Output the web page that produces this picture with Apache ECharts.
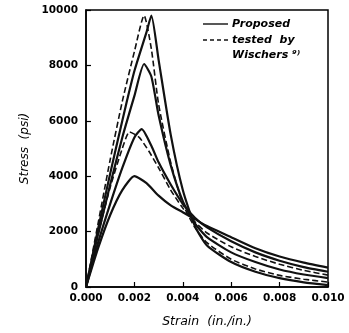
<!DOCTYPE html>
<html><head><meta charset="utf-8">
<script src="https://cdn.jsdelivr.net/npm/echarts@6/dist/echarts.min.js"></script>
<style>html,body{margin:0;padding:0;background:#fff}#c{width:349px;height:333px}</style>
</head><body><div id="c"></div>
<script>
// strain (in./in.), stress (psi)
const propA_strain = [0,0.0005,0.001,0.0015,0.0017,0.002,0.0025,0.0027,0.003,0.0035,0.004,0.0045,0.005,0.006,0.007,0.008,0.009,0.010];
const propA_stress = [0,2100,4100,6000,6750,7800,9200,9800,8200,5500,3500,2200,1500,900,550,320,170,70];
const testA_strain = [0,0.0005,0.001,0.0015,0.002,0.0024,0.0027,0.003,0.0035,0.004,0.0045,0.005,0.006,0.007,0.008,0.009,0.010];
const testA_stress = [0,2300,4600,6700,8500,9800,8600,6600,4500,3000,2150,1600,1000,650,420,280,180];
const propB_strain = [0,0.0005,0.001,0.0015,0.002,0.0024,0.0027,0.003,0.0035,0.004,0.0045,0.005,0.006,0.007,0.008,0.009,0.010];
const propB_stress = [0,1900,3700,5400,6900,8050,7600,6200,4400,3100,2300,1800,1250,900,630,450,320];
const propC_strain = [0,0.0005,0.001,0.0015,0.002,0.0023,0.0027,0.003,0.0035,0.004,0.0045,0.005,0.006,0.007,0.008,0.009,0.010];
const propC_stress = [0,1600,3000,4300,5400,5700,5100,4500,3700,3000,2500,2150,1650,1250,950,720,550];
const testC_strain = [0,0.0005,0.001,0.0015,0.0018,0.0022,0.0026,0.003,0.0035,0.004,0.0045,0.005,0.006,0.007,0.008,0.009,0.010];
const testC_stress = [0,1900,3600,5000,5600,5400,4900,4300,3500,2850,2350,1950,1450,1100,820,600,430];
const propD_strain = [0,0.0005,0.001,0.0015,0.002,0.0025,0.003,0.0035,0.004,0.0045,0.005,0.006,0.007,0.008,0.009,0.010];
const propD_stress = [0,1400,2600,3500,4000,3750,3300,2950,2700,2450,2200,1800,1400,1100,880,700];
const xTicks = [0,0.002,0.004,0.006,0.008,0.010];
const yTicks = [0,2000,4000,6000,8000,10000];

const zip = (a,b)=>a.map((v,i)=>[v,b[i]]);
const solid = (name,xs,ys)=>({type:'line',name,data:zip(xs,ys),showSymbol:false,smooth:0.2,
  lineStyle:{color:'#111',width:2.2,type:'solid'}});
const dashed = (name,xs,ys)=>({type:'line',name,data:zip(xs,ys),showSymbol:false,smooth:0.2,
  lineStyle:{color:'#111',width:1.6,type:[6,3]}});

const chart = echarts.init(document.getElementById('c'),null,{renderer:'canvas'});
const lbl = {color:'#000',fontFamily:'DejaVu Sans',fontWeight:'bold',fontSize:10.5};
chart.setOption({
  animation:false,
  grid:{left:86,right:21,top:10,bottom:46,show:true,borderColor:'#000',borderWidth:1.5},
  xAxis:{type:'value',min:0,max:0.010,interval:0.002,
    name:'Strain  (in./in.)',nameLocation:'middle',nameGap:28,
    nameTextStyle:{color:'#000',fontFamily:'DejaVu Sans',fontStyle:'italic',fontSize:12.5},
    axisLine:{lineStyle:{color:'#000',width:1.5}},
    axisTick:{inside:true,length:5,lineStyle:{color:'#000',width:1.2}},
    axisLabel:Object.assign({margin:6,formatter:v=>v.toFixed(3)},lbl),
    splitLine:{show:false}},
  yAxis:{type:'value',min:0,max:10000,interval:2000,
    name:'Stress  (psi)',nameLocation:'middle',nameGap:38,
    nameTextStyle:{color:'#000',fontFamily:'DejaVu Sans',fontStyle:'italic',fontSize:12},
    axisLine:{lineStyle:{color:'#000',width:1.5}},
    axisTick:{inside:true,length:5,lineStyle:{color:'#000',width:1.2}},
    axisLabel:Object.assign({margin:8,formatter:v=>String(v)},lbl),
    splitLine:{show:false}},
  series:[
    solid('Proposed',propA_strain,propA_stress),
    dashed('tested',testA_strain,testA_stress),
    solid('Proposed',propB_strain,propB_stress),
    solid('Proposed',propC_strain,propC_stress),
    dashed('tested',testC_strain,testC_stress),
    solid('Proposed',propD_strain,propD_stress)
  ],
  graphic:[
    {type:'line',shape:{x1:203,y1:24,x2:228,y2:24},style:{stroke:'#111',lineWidth:1.4}},
    {type:'line',shape:{x1:203,y1:40,x2:228,y2:40},style:{stroke:'#111',lineWidth:1.4,lineDash:[4,3]}},
    {type:'text',x:232,y:24,style:{text:'Proposed',fill:'#000',font:'italic bold 11px DejaVu Sans',textVerticalAlign:'middle'}},
    {type:'text',x:232,y:40,style:{text:'tested  by',fill:'#000',font:'italic bold 11px DejaVu Sans',textVerticalAlign:'middle'}},
    {type:'text',x:232,y:55,style:{text:'Wischers ⁹⁾',fill:'#000',font:'italic bold 11px DejaVu Sans',textVerticalAlign:'middle'}}
  ]
});
</script></body></html>
